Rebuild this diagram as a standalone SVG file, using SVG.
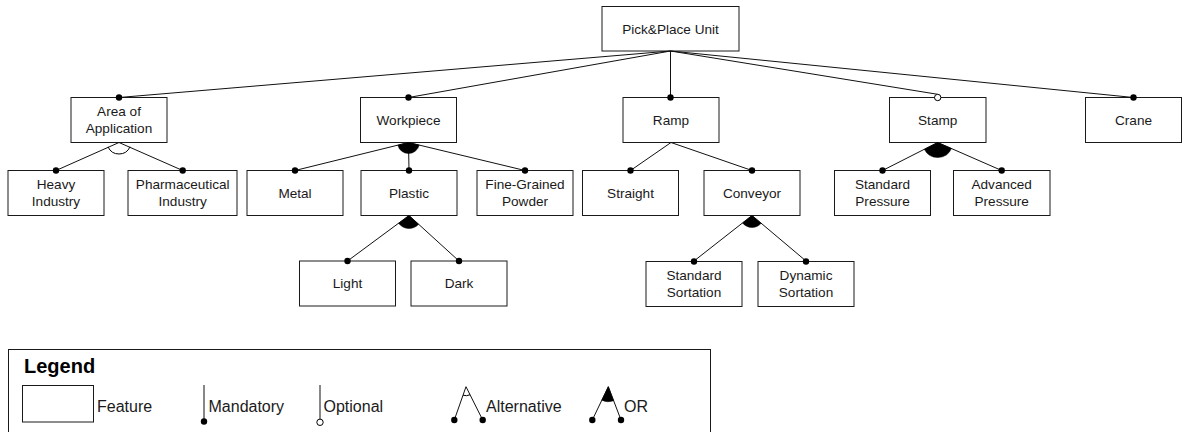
<svg xmlns="http://www.w3.org/2000/svg" width="1182" height="432" viewBox="0 0 1182 432">
<style>
.box{fill:#fff;stroke:#1a1a1a;stroke-width:1}
.lbl{font-family:"Liberation Sans",Arial,sans-serif;font-size:13.6px;fill:#1a1a1a;text-anchor:middle}
.leg{font-family:"Liberation Sans",Arial,sans-serif;font-size:16px;fill:#1a1a1a}
.ln{stroke:#111;stroke-width:1;fill:none}
.dot{fill:#000}
.opt{fill:#fff;stroke:#000;stroke-width:1}
.orf{fill:#000;stroke:#000;stroke-width:0.5}
.alt{fill:none;stroke:#000;stroke-width:1}
</style>
<rect width="1182" height="432" fill="#fff"/>
<g id="n-root"><rect class="box" x="602" y="6.5" width="137" height="44.5"/><text class="lbl" x="670.5" y="33.5">Pick&amp;Place Unit</text></g>
<g id="n-area"><rect class="box" x="71" y="97.5" width="96" height="45"/><text class="lbl" x="119" y="116">Area of</text><text class="lbl" x="119" y="133">Application</text></g>
<g id="n-workpiece"><rect class="box" x="360.5" y="97.5" width="96" height="45"/><text class="lbl" x="408.5" y="124.8">Workpiece</text></g>
<g id="n-ramp"><rect class="box" x="623" y="97.5" width="96" height="45"/><text class="lbl" x="671" y="124.8">Ramp</text></g>
<g id="n-stamp"><rect class="box" x="889.5" y="97.5" width="96.5" height="45"/><text class="lbl" x="937.7" y="124.8">Stamp</text></g>
<g id="n-crane"><rect class="box" x="1085.5" y="97.5" width="96" height="45"/><text class="lbl" x="1133.5" y="124.8">Crane</text></g>
<g id="n-heavy"><rect class="box" x="8" y="170.5" width="96" height="45"/><text class="lbl" x="56" y="189">Heavy</text><text class="lbl" x="56" y="206">Industry</text></g>
<g id="n-pharma"><rect class="box" x="128" y="170.5" width="109" height="45"/><text class="lbl" x="182.7" y="189">Pharmaceutical</text><text class="lbl" x="182.7" y="206">Industry</text></g>
<g id="n-metal"><rect class="box" x="247" y="170.5" width="96" height="45"/><text class="lbl" x="295" y="197.8">Metal</text></g>
<g id="n-plastic"><rect class="box" x="361" y="170.5" width="96" height="45"/><text class="lbl" x="409" y="197.8">Plastic</text></g>
<g id="n-fine"><rect class="box" x="477" y="170.5" width="96" height="45"/><text class="lbl" x="525" y="189">Fine-Grained</text><text class="lbl" x="525" y="206">Powder</text></g>
<g id="n-straight"><rect class="box" x="582.5" y="170.5" width="96" height="45"/><text class="lbl" x="630.5" y="197.8">Straight</text></g>
<g id="n-conveyor"><rect class="box" x="704" y="170.5" width="96" height="45"/><text class="lbl" x="752" y="197.8">Conveyor</text></g>
<g id="n-stdpress"><rect class="box" x="834.5" y="170.5" width="96" height="45"/><text class="lbl" x="882.5" y="189">Standard</text><text class="lbl" x="882.5" y="206">Pressure</text></g>
<g id="n-advpress"><rect class="box" x="953.5" y="170.5" width="96.5" height="45"/><text class="lbl" x="1001.7" y="189">Advanced</text><text class="lbl" x="1001.7" y="206">Pressure</text></g>
<g id="n-light"><rect class="box" x="299.5" y="261" width="96" height="45"/><text class="lbl" x="347.5" y="288.3">Light</text></g>
<g id="n-dark"><rect class="box" x="411" y="261" width="96" height="45"/><text class="lbl" x="459" y="288.3">Dark</text></g>
<g id="n-stdsort"><rect class="box" x="646" y="261.5" width="96" height="45"/><text class="lbl" x="694" y="280">Standard</text><text class="lbl" x="694" y="297">Sortation</text></g>
<g id="n-dynsort"><rect class="box" x="758" y="261.5" width="96" height="45"/><text class="lbl" x="806" y="280">Dynamic</text><text class="lbl" x="806" y="297">Sortation</text></g>
<g id="connectors">
<line class="ln" x1="670.5" y1="51" x2="119" y2="97.5"/>
<line class="ln" x1="670.5" y1="51" x2="408.5" y2="97.5"/>
<line class="ln" x1="670.5" y1="51" x2="670.5" y2="97.5"/>
<line class="ln" x1="670.5" y1="51" x2="937.7" y2="94.3"/>
<line class="ln" x1="670.5" y1="51" x2="1133.5" y2="97.5"/>
<line class="ln" x1="119" y1="142.5" x2="56" y2="170.5"/>
<line class="ln" x1="119" y1="142.5" x2="182.7" y2="170.5"/>
<line class="ln" x1="408.5" y1="142.5" x2="295" y2="170.5"/>
<line class="ln" x1="408.5" y1="142.5" x2="409" y2="170.5"/>
<line class="ln" x1="408.5" y1="142.5" x2="525" y2="170.5"/>
<line class="ln" x1="671" y1="142.5" x2="630.5" y2="170.5"/>
<line class="ln" x1="671" y1="142.5" x2="752" y2="170.5"/>
<line class="ln" x1="937.7" y1="142.5" x2="882.5" y2="170.5"/>
<line class="ln" x1="937.7" y1="142.5" x2="1001.7" y2="170.5"/>
<line class="ln" x1="409" y1="215.5" x2="347.5" y2="261"/>
<line class="ln" x1="409" y1="215.5" x2="459" y2="261"/>
<line class="ln" x1="752" y1="215.5" x2="694" y2="261"/>
<line class="ln" x1="752" y1="215.5" x2="806" y2="261"/>
<path class="alt" d="M129.99 146.82 A12 12 0 0 1 108.06 146.92"/>
<path class="orf" d="M408.5 142.5 L419.2 145.07 A11 11 0 0 1 397.82 145.14 Z"/>
<path class="orf" d="M409 215.5 L418.57 224.3 A13 13 0 0 1 398.59 223.29 Z"/>
<path class="orf" d="M752 215.5 L761.14 223.28 A12 12 0 0 1 742.6 222.95 Z"/>
<path class="orf" d="M937.7 142.5 L951.45 148.51 A15 15 0 0 1 924.32 149.29 Z"/>
<circle class="dot" cx="119" cy="97.5" r="3.2"/>
<circle class="dot" cx="408.5" cy="97.5" r="3.2"/>
<circle class="dot" cx="670.5" cy="97.5" r="3.2"/>
<circle class="opt" cx="937.7" cy="97.5" r="3.2"/>
<circle class="dot" cx="1133.5" cy="97.5" r="3.2"/>
<circle class="dot" cx="56" cy="170.5" r="3.2"/>
<circle class="dot" cx="182.7" cy="170.5" r="3.2"/>
<circle class="dot" cx="295" cy="170.5" r="3.2"/>
<circle class="dot" cx="409" cy="170.5" r="3.2"/>
<circle class="dot" cx="525" cy="170.5" r="3.2"/>
<circle class="dot" cx="630.5" cy="170.5" r="3.2"/>
<circle class="dot" cx="752" cy="170.5" r="3.2"/>
<circle class="dot" cx="882.5" cy="170.5" r="3.2"/>
<circle class="dot" cx="1001.7" cy="170.5" r="3.2"/>
<circle class="dot" cx="347.5" cy="261" r="3.2"/>
<circle class="dot" cx="459" cy="261" r="3.2"/>
<circle class="dot" cx="694" cy="261.5" r="3.2"/>
<circle class="dot" cx="806" cy="261.5" r="3.2"/>
</g>
<g id="legend">
<rect x="8.5" y="349.5" width="702" height="100" fill="#fff" stroke="#1a1a1a" stroke-width="1"/>
<text x="24" y="372.7" font-family="Liberation Sans,Arial,sans-serif" font-size="20" font-weight="bold" fill="#000">Legend</text>
<rect x="22.5" y="385.5" width="71" height="36.5" fill="#fff" stroke="#1a1a1a" stroke-width="1"/>
<text class="leg" x="97" y="412">Feature</text>
<line class="ln" x1="204" y1="385" x2="204" y2="421.5"/>
<circle class="dot" cx="204" cy="421.5" r="3.2"/>
<text class="leg" x="208.5" y="412">Mandatory</text>
<line class="ln" x1="320" y1="385" x2="320" y2="419"/>
<circle class="opt" cx="320" cy="422.3" r="3.2"/>
<text class="leg" x="323.5" y="412">Optional</text>
<line class="ln" x1="466" y1="386.7" x2="454.3" y2="420"/>
<line class="ln" x1="466" y1="386.7" x2="482.7" y2="420"/>
<path class="alt" d="M470.03 394.75 A9 9 0 0 1 463.01 395.19"/>
<circle class="dot" cx="454.3" cy="420" r="3.2"/>
<circle class="dot" cx="482.7" cy="420" r="3.2"/>
<text class="leg" x="486" y="412">Alternative</text>
<line class="ln" x1="608.3" y1="386.7" x2="592.3" y2="420"/>
<line class="ln" x1="608.3" y1="386.7" x2="621" y2="420"/>
<path class="orf" d="M608.3 386.7 L613.65 400.71 A15 15 0 0 1 601.8 400.21 Z"/>
<circle class="dot" cx="592.3" cy="420" r="3.2"/>
<circle class="dot" cx="621" cy="420" r="3.2"/>
<text class="leg" x="624" y="412">OR</text>
</g>
</svg>
